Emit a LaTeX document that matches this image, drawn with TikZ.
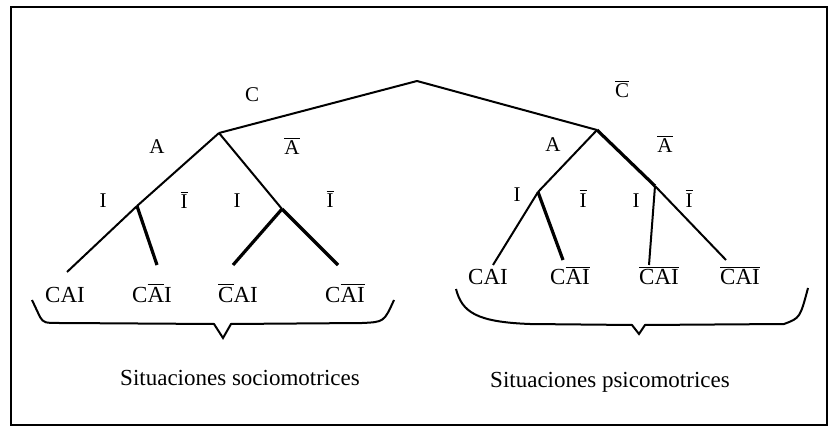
\documentclass[tikz,border=0pt]{standalone}
\usepackage{fontspec}
\setmainfont{Liberation Serif}
\newcommand\negbar[1]{$\overline{\hbox{#1}}$}

\begin{document}
\begin{tikzpicture}[x=0.5pt, y=-0.5pt,
  branch/.style={line width=1pt},
  heavy/.style={line width=1.6pt},
  lab/.style={font=\fontsize{10.5}{12}\selectfont, inner sep=0pt, anchor=base},
  leaf/.style={font=\fontsize{11.5}{13}\selectfont, inner sep=0pt, anchor=base},
  caption/.style={font=\fontsize{11.5}{14}\selectfont, inner sep=0pt, anchor=base}]
\useasboundingbox (0,0) rectangle (829,427);
\draw[line width=1pt] (11,7) rectangle (827,425);

% branching points
\coordinate (r)  at (417,81);
\coordinate (a1) at (219,133);
\coordinate (a2) at (597,130);
\coordinate (i1) at (137,206);
\coordinate (i2) at (282,209);
\coordinate (i3) at (538,192);
\coordinate (i4) at (655,186);
% branch ends
\coordinate (e1) at (67,272);
\coordinate (e2) at (157,265);
\coordinate (e3) at (233,265);
\coordinate (e4) at (338,265);
\coordinate (e5) at (493,265);
\coordinate (e6) at (563,260);
\coordinate (e7) at (649,265);
\coordinate (e8) at (726,260);

\foreach \a/\b in {r/a1, r/a2, a1/i1, a1/i2, a2/i3, i1/e1, i3/e5, i4/e8, i4/e7}
  \draw[branch] (\a) -- (\b);
\foreach \a/\b in {i1/e2, i2/e3, i2/e4, a2/i4, i3/e6}
  \draw[heavy] (\a) -- (\b);

% branch labels
\node[lab] (c)   at (252,102) {C};
\node[lab] (cn)  at (622,98)  {\negbar{C}};
\node[lab] (la)  at (157,154) {A};
\node[lab] (lan) at (292,155) {\negbar{A}};
\node[lab] (ra)  at (553,152) {A};
\node[lab] (ran) at (665,153) {\negbar{A}};
\node[lab] (li1)  at (103,207) {I};
\node[lab] (li1n) at (184,209) {\negbar{I}};
\node[lab] (li2)  at (237,208) {I};
\node[lab] (li2n) at (330,208) {\negbar{I}};
\node[lab] (ri1)  at (517,202) {I};
\node[lab] (ri1n) at (583,207) {\negbar{I}};
\node[lab] (ri2)  at (636,208) {I};
\node[lab] (ri2n) at (689,207) {\negbar{I}};

% leaves
\node[leaf] (l1) at (65,302)  {CAI};
\node[leaf] (l2) at (152,302) {C\negbar{A}I};
\node[leaf] (l3) at (238,302) {\negbar{C}AI};
\node[leaf] (l4) at (345,302) {C\negbar{AI}};
\node[leaf] (l5) at (488,285) {CAI};
\node[leaf] (l6) at (570,285) {C\negbar{AI}};
\node[leaf] (l7) at (659,285) {\negbar{CAI}};
\node[leaf] (l8) at (740,285) {\negbar{CAI}};

% braces
\draw[line width=1pt] (32,300) -- (40,317) .. controls (44,323) .. (62,323)
  -- (214,324) -- (223,338) -- (231,324) -- (362,323)
  .. controls (384,322) .. (394,300);
\draw[line width=1pt] (456,289) .. controls (462,312) and (476,322) .. (530,324)
  -- (632,325) -- (639,334) -- (645,325) -- (784,324)
  .. controls (800,318) .. (808,288);

\node[caption] (soc) at (240,385) {Situaciones sociomotrices};
\node[caption] (psi) at (610,387) {Situaciones psicomotrices};
\end{tikzpicture}
\end{document}
